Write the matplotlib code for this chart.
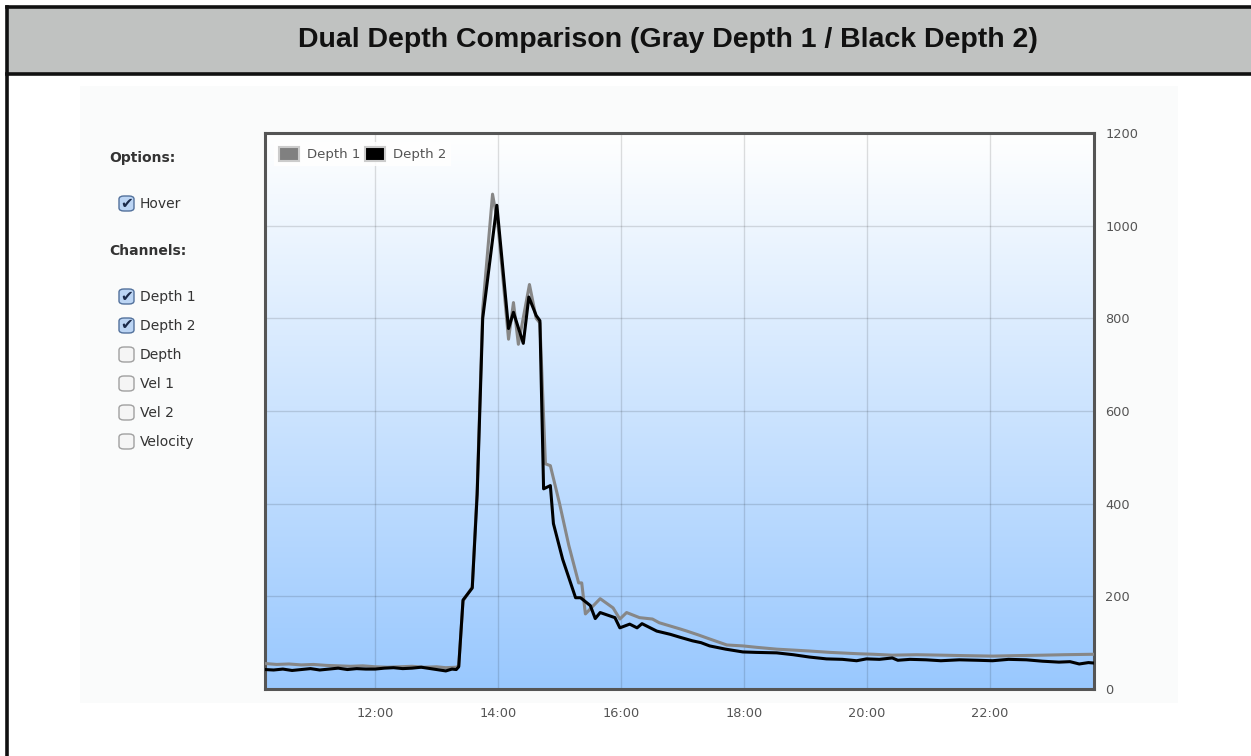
import numpy as np
import matplotlib
matplotlib.use("Agg")
import matplotlib.pyplot as plt
from matplotlib.colors import LinearSegmentedColormap
from matplotlib.patches import Rectangle, FancyBboxPatch, Patch
from matplotlib.lines import Line2D
from matplotlib.ticker import FuncFormatter

# Depth 1 (gray) : time in decimal hours, value
t1 = [10.21, 10.4, 10.6, 10.8, 11.0, 11.2, 11.4, 11.6, 11.8, 12.0, 12.2, 12.4, 12.6, 12.8,
      13.0, 13.15, 13.32, 13.36, 13.43, 13.58, 13.66, 13.75, 13.91, 14.0, 14.17, 14.25,
      14.33, 14.51, 14.62, 14.68, 14.77, 14.85, 15.0, 15.15, 15.31, 15.36, 15.42, 15.66,
      15.87, 15.98, 16.09, 16.30, 16.51, 16.62, 16.95, 17.07, 17.25, 17.44, 17.72, 17.98,
      18.2, 18.53, 18.8, 19.06, 19.4, 19.87, 20.1, 20.41, 20.8, 21.22, 21.6, 22.04, 22.4,
      22.85, 23.2, 23.69]
depth1 = [55, 53, 54, 52, 53, 51, 50, 49, 50, 48, 47, 48, 49, 47,
          48, 46, 47, 50, 190, 220, 430, 820, 1068, 1000, 755, 834,
          744, 873, 800, 790, 486, 482, 400, 310, 229, 229, 162, 195,
          175, 151, 165, 154, 151, 143, 130, 125, 117, 108, 95, 93,
          90, 86, 84, 82, 79, 76, 75, 73, 74, 73, 72, 71, 72,
          73, 74, 75]

# Depth 2 (black)
t2 = [10.21, 10.35, 10.5, 10.65, 10.8, 10.95, 11.1, 11.25, 11.4, 11.55, 11.7, 11.85, 12.0,
      12.15, 12.3, 12.45, 12.6, 12.75, 12.9, 13.05, 13.15, 13.25, 13.32, 13.36, 13.43,
      13.58, 13.66, 13.75, 13.98, 14.17, 14.25, 14.41, 14.50, 14.62, 14.68, 14.74, 14.85,
      14.90, 15.05, 15.26, 15.34, 15.50, 15.58, 15.66, 15.90, 15.98, 16.14, 16.26, 16.34,
      16.58, 16.8, 16.95, 17.16, 17.3, 17.44, 17.7, 17.98, 18.2, 18.53, 18.8, 19.06, 19.34,
      19.6, 19.83, 19.99, 20.2, 20.41, 20.5, 20.7, 20.96, 21.2, 21.5, 21.8, 22.04, 22.3,
      22.59, 22.85, 23.12, 23.3, 23.45, 23.6, 23.69]
depth2 = [42, 41, 43, 40, 42, 44, 41, 43, 45, 42, 44, 43, 43,
          45, 46, 44, 45, 47, 44, 41, 39, 43, 42, 48, 192,
          218, 420, 800, 1044, 778, 813, 746, 846, 806, 795, 432, 439,
          357, 280, 197, 197, 180, 152, 165, 154, 132, 140, 132, 141,
          125, 118, 112, 104, 100, 93, 86, 80, 79, 78, 74, 69, 65,
          64, 61, 65, 64, 67, 62, 64, 63, 61, 63, 62, 61, 64,
          63, 60, 58, 59, 54, 57, 56]

x_ticks = [12, 14, 16, 18, 20, 22]
y_ticks = [0, 200, 400, 600, 800, 1000, 1200]
channels = ["Depth 1", "Depth 2", "Depth", "Vel 1", "Vel 2", "Velocity"]
channel_on = [True, True, False, False, False, False]

W, H = 1251, 756
fig = plt.figure(figsize=(W / 100, H / 100), dpi=100)


def fx(x):
    return x / W


def fy(y):
    return 1 - y / H


# page frame and header band
fig.add_artist(Rectangle((fx(80), fy(703)), fx(1178) - fx(80), fy(86) - fy(703),
                         transform=fig.transFigure, facecolor="#fafbfb", edgecolor="none", zorder=0))
fig.add_artist(Rectangle((fx(7), fy(74)), 1 - fx(7), fy(7) - fy(74),
                         transform=fig.transFigure, facecolor="#c0c2c1", edgecolor="none", zorder=1))
for (xa, ya, xb, yb) in [(7, 7, W, 7), (7, 74, W, 74), (7, 7, 7, H)]:
    fig.add_artist(Line2D([fx(xa), fx(xb)], [fy(ya), fy(yb)], transform=fig.transFigure,
                          color="#111111", lw=2.6, zorder=2))
fig.text(fx(668), fy(40), "Dual Depth Comparison (Gray Depth 1 / Black Depth 2)",
         ha="center", va="center", fontsize=20.5, fontweight="bold",
         family="Liberation Sans", color="#111111")

# plot area
ax = fig.add_axes([fx(265), fy(689), fx(1094) - fx(265), fy(133) - fy(689)])
xmin, xmax = 10.21, 23.69
grad = LinearSegmentedColormap.from_list("bg", ["#ffffff", "#99c8fe"])
ax.imshow(np.linspace(0, 1, 256).reshape(-1, 1), extent=[xmin, xmax, 0, 1200],
          aspect="auto", cmap=grad, origin="upper", zorder=0)
ax.set_xlim(xmin, xmax)
ax.set_ylim(0, 1200)
ax.set_xticks(x_ticks)
ax.set_yticks(y_ticks)
ax.xaxis.set_major_formatter(FuncFormatter(lambda v, p: f"{int(v)}:00"))
ax.yaxis.tick_right()
ax.tick_params(length=0, labelsize=9.3, labelcolor="#545454")
ax.tick_params(axis="y", pad=8)
ax.tick_params(axis="x", pad=13)
ax.grid(True, color="#000000", alpha=0.13, lw=1, zorder=1)
for s in ax.spines.values():
    s.set_color("#555555")
    s.set_linewidth(2.2)

ax.plot(t1, depth1, color="#878787", lw=2.2, zorder=3)
ax.plot(t2, depth2, color="#000000", lw=2.2, zorder=4)

handles = [Patch(facecolor="#808080", edgecolor="#cccccc", lw=1.5),
           Patch(facecolor="#000000", edgecolor="#cccccc", lw=1.5)]
leg = ax.legend(handles, ["Depth 1", "Depth 2"], loc="upper left", ncol=2,
                fontsize=9.5, handlelength=1.55, handleheight=1.3, handletextpad=0.6,
                columnspacing=0.3, borderaxespad=0.7, borderpad=0.35,
                framealpha=0.85, edgecolor="none", fancybox=False)
for txt in leg.get_texts():
    txt.set_color("#545454")

# left option panel
fig.text(fx(109), fy(158), "Options:", fontsize=10, fontweight="bold",
         color="#333333", va="center")
fig.text(fx(109), fy(251), "Channels:", fontsize=10, fontweight="bold",
         color="#333333", va="center")


def checkbox(y, label, on):
    face = "#bcd5f4" if on else "#f5f5f5"
    edge = "#52719c" if on else "#a0a0a0"
    fig.add_artist(FancyBboxPatch((fx(119), fy(y + 7)), fx(15), 15 / H,
                                  boxstyle="round,pad=0,rounding_size=0.004",
                                  transform=fig.transFigure, facecolor=face,
                                  edgecolor=edge, lw=1))
    if on:
        fig.text(fx(127), fy(y - 1), "\u2714", fontsize=11, color="#1c2b4a",
                 ha="center", va="center", family="DejaVu Sans")
    fig.text(fx(140), fy(y), label, fontsize=10, color="#333333", va="center")


checkbox(204, "Hover", True)
ys = [297, 326, 355, 384, 413, 442]
for yy, name, on in zip(ys, channels, channel_on):
    checkbox(yy, name, on)

fig.savefig("out.png", dpi=100)
